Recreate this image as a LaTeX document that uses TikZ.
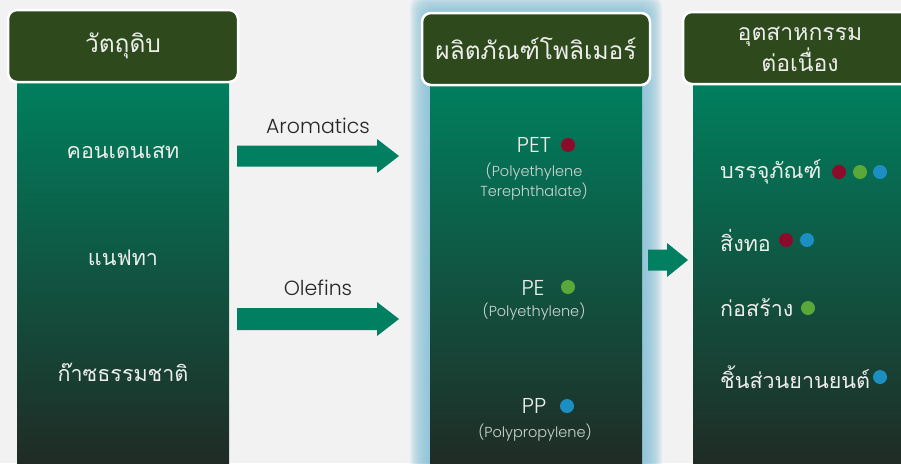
\documentclass[tikz,border=0pt]{standalone}
\usepackage{fontspec}
\setmainfont{Poppins}[UprightFont=* Light]
\newfontfamily\thai[Script=Thai]{Loma}
\definecolor{bg}{HTML}{F2F2F2}
\definecolor{hdr}{HTML}{2E4A1D}
\definecolor{coltop}{HTML}{007F5E}
\definecolor{colbot}{HTML}{202B25}
\definecolor{arr}{HTML}{008060}
\definecolor{glowc}{HTML}{8CC4DA}
\definecolor{txt}{HTML}{EDEEEC}
\definecolor{subtxt}{HTML}{CDD5D1}
\definecolor{dred}{HTML}{8C0B2A}
\definecolor{dgreen}{HTML}{5BA83A}
\definecolor{dblue}{HTML}{1C8EC1}
\tikzset{
  header/.style={draw=white, line width=2.5pt, fill=hdr, rounded corners=9pt,
    minimum height=72pt, text=txt, font=\thai\fontsize{24.5}{28}\selectfont, align=center, inner sep=0pt},
  column/.style={top color=coltop, bottom color=colbot, draw=none, inner sep=0pt},
  coltext/.style={text=txt, font=\thai\fontsize{21.5}{25}\selectfont, inner sep=0pt},
  rtext/.style={coltext, anchor=west},
  poly/.style={text=txt, font=\fontsize{21.5}{22}\selectfont, inner sep=0pt},
  polysub/.style={text=subtxt, font=\fontsize{14.5}{20}\selectfont, align=center, inner sep=0pt},
  dot/.style={circle, minimum size=14pt, inner sep=0pt, draw=none},
  blockarrow/.style={fill=arr, draw=none},
  lbl/.style={text=black!85, font=\fontsize{20.5}{22}\selectfont, inner sep=0pt},
}
\begin{document}
\begin{tikzpicture}[x=1pt,y=-1pt]
\useasboundingbox (0,0) rectangle (901,463);
\fill[bg] (0,0) rectangle (901,463);
% glow around middle column
\foreach \i in {1,...,20}{
  \fill[glowc, fill opacity=0.1, rounded corners=12pt] (430-\i,15-\i) rectangle (642+\i,480);
}
% columns
\node[column, minimum width=212pt, minimum height=381pt, anchor=north west] (c1) at (17,82) {};
\node[column, minimum width=212pt, minimum height=381pt, anchor=north west] (c2) at (430,84) {};
\node[column, minimum width=220pt, minimum height=381pt, anchor=north west] (c3) at (693,84) {};
% headers
\node[header, minimum width=230pt] (h1) at (123,46) {วัตถุดิบ};
\node[header, minimum width=228pt] (h2) at (536,49) {ผลิตภัณฑ์โพลิเมอร์};
\node[header, minimum width=234pt] (h3) at (800,48) {};
\node[text=txt, font=\thai\fontsize{23}{27}\selectfont, align=center, inner sep=0pt] (h3t) at (800,49) {อุตสาหกรรม\\ต่อเนื่อง};
% left texts
\node[coltext] (r1) at (123,152) {คอนเดนเสท};
\node[coltext] (r2) at (123,258) {แนฟทา};
\node[coltext] (r3) at (123,372) {ก๊าซธรรมชาติ};
% arrows
\coordinate (a1s) at (237,156);
\coordinate (a1t) at (399,156);
\fill[blockarrow] (a1s) ++(0,-10.5) -- ++(140,0) -- ++(0,-6.5) -- (a1t) -- ++(-22,17) -- ++(0,-6.5) -- ++(-140,0) -- cycle;
\node[lbl] (l1) at (318,126) {Aromatics};
\coordinate (a2s) at (237,319);
\coordinate (a2t) at (399,319);
\fill[blockarrow] (a2s) ++(0,-11) -- ++(140,0) -- ++(0,-6) -- (a2t) -- ++(-22,17) -- ++(0,-6) -- ++(-140,0) -- cycle;
\node[lbl] (l2) at (318,288) {Olefins};
\coordinate (a3s) at (648,260);
\coordinate (a3t) at (688,260);
\fill[blockarrow] (a3s) ++(0,-10.5) -- ++(19,0) -- ++(0,-6.5) -- (a3t) -- ++(-21,17) -- ++(0,-6.5) -- ++(-19,0) -- cycle;
% middle texts
\node[poly] (pet) at (534,145) {PET};
\node[dot, fill=dred] (pd) at (568,145) {};
\node[polysub] (pets) at (534,182) {(Polyethylene\\Terephthalate)};
\node[poly] (pe) at (533,288) {PE};
\node[dot, fill=dgreen] (ped) at (568,287) {};
\node[polysub] (pes) at (534,312) {(Polyethylene)};
\node[poly] (pp) at (534,406) {PP};
\node[dot, fill=dblue] (ppd) at (567,406) {};
\node[polysub] (pps) at (535,433) {(Polypropylene)};
% right texts
\node[rtext] (i1) at (720,172) {บรรจุภัณฑ์};
\node[dot, fill=dred] (i1a) at (839,172) {};
\node[dot, fill=dgreen] (i1b) at (860,172) {};
\node[dot, fill=dblue] (i1c) at (880,172) {};
\node[rtext] (i2) at (720,240) {สิ่งทอ};
\node[dot, fill=dred] (i2a) at (786,240) {};
\node[dot, fill=dblue] (i2b) at (807,240) {};
\node[rtext] (i3) at (720,308) {ก่อสร้าง};
\node[dot, fill=dgreen] (i3a) at (808,308) {};
\node[rtext] (i4) at (720,377) {ชิ้นส่วนยานยนต์};
\node[dot, fill=dblue] (i4a) at (880,377) {};
\end{tikzpicture}
\end{document}
